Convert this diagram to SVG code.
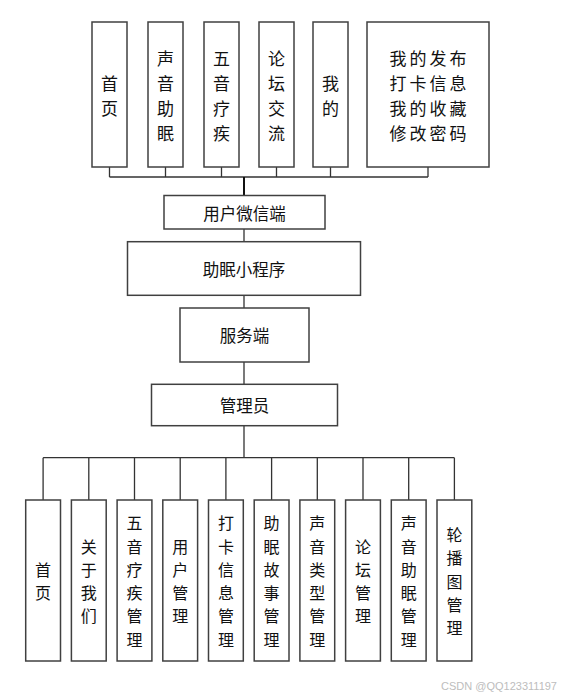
<svg xmlns="http://www.w3.org/2000/svg" width="561" height="698" viewBox="0 0 561 698">
<style>
.box{fill:#fff;stroke:#404040;stroke-width:1.5}
.ln{fill:none;stroke:#333;stroke-width:1.3}
.thk{fill:none;stroke:#111;stroke-width:2}
text{font-family:"Noto Sans CJK SC","Noto Sans",sans-serif;fill:#111;text-anchor:middle;dominant-baseline:central}
.big{font-size:17px}
.wide{font-size:17px;letter-spacing:3px}
.sm{font-size:16px}
.mid{font-size:16.5px}
.wm{font-family:"Liberation Sans",sans-serif;font-size:11px;fill:#bdbdbd;text-anchor:end}
</style>
<rect width="561" height="698" fill="#fff"/>
<g id="connectors">
<path class="ln" d="M109.5 167V177M165.5 167V177M221.5 167V177M276.5 167V177M330.5 167V177M428 167V177M109.5 177H428"/>
<path class="thk" d="M244 177V195.5"/>
<path class="ln" d="M244 229V241.7M244 295.3V308M244 362V384.3M244 425.7V457.7"/>
<path class="ln" d="M43.1 457.7H454.4M43.1 457.7V500M88.8 457.7V500M134.5 457.7V500M180.2 457.7V500M225.9 457.7V500M271.6 457.7V500M317.3 457.7V500M363 457.7V500M408.7 457.7V500M454.4 457.7V500"/>
</g>
<g id="t1"><rect class="box" x="92" y="22" width="35" height="145"/><text class="big"><tspan x="109.5" y="82">首</tspan><tspan x="109.5" y="107">页</tspan></text></g>
<g id="t2"><rect class="box" x="148" y="22" width="35" height="145"/><text class="big"><tspan x="165.5" y="57">声</tspan><tspan x="165.5" y="82">音</tspan><tspan x="165.5" y="107">助</tspan><tspan x="165.5" y="132">眠</tspan></text></g>
<g id="t3"><rect class="box" x="204" y="22" width="35" height="145"/><text class="big"><tspan x="221.5" y="57">五</tspan><tspan x="221.5" y="82">音</tspan><tspan x="221.5" y="107">疗</tspan><tspan x="221.5" y="132">疾</tspan></text></g>
<g id="t4"><rect class="box" x="259" y="22" width="35" height="145"/><text class="big"><tspan x="276.5" y="57">论</tspan><tspan x="276.5" y="82">坛</tspan><tspan x="276.5" y="107">交</tspan><tspan x="276.5" y="132">流</tspan></text></g>
<g id="t5"><rect class="box" x="313" y="22" width="35" height="145"/><text class="big"><tspan x="330.5" y="82">我</tspan><tspan x="330.5" y="107">的</tspan></text></g>
<g id="t6"><rect class="box" x="367" y="22" width="122" height="145"/><text class="wide"><tspan x="429.5" y="57">我的发布</tspan><tspan x="429.5" y="82">打卡信息</tspan><tspan x="429.5" y="107">我的收藏</tspan><tspan x="429.5" y="132">修改密码</tspan></text></g>
<g id="wechat"><rect class="box" x="164" y="195.5" width="161" height="33.5"/><text class="mid" x="244.5" y="212.5">用户微信端</text></g>
<g id="miniapp"><rect class="box" x="127.5" y="241.7" width="233" height="53.6"/><text class="mid" x="244" y="268.5">助眠小程序</text></g>
<g id="server"><rect class="box" x="180" y="308" width="129" height="54"/><text class="mid" x="244.5" y="335">服务端</text></g>
<g id="admin"><rect class="box" x="151.5" y="384.3" width="186" height="41.4"/><text class="mid" x="244.5" y="405">管理员</text></g>
<g id="b1"><rect class="box" x="25.7" y="500" width="34.8" height="161"/><text class="sm"><tspan x="43.1" y="568.8">首</tspan><tspan x="43.1" y="592.1">页</tspan></text></g>
<g id="b2"><rect class="box" x="71.4" y="500" width="34.8" height="161"/><text class="sm"><tspan x="88.8" y="545.5">关</tspan><tspan x="88.8" y="568.8">于</tspan><tspan x="88.8" y="592.1">我</tspan><tspan x="88.8" y="615.4">们</tspan></text></g>
<g id="b3"><rect class="box" x="117.1" y="500" width="34.8" height="161"/><text class="sm"><tspan x="134.5" y="522.2">五</tspan><tspan x="134.5" y="545.5">音</tspan><tspan x="134.5" y="568.8">疗</tspan><tspan x="134.5" y="592.1">疾</tspan><tspan x="134.5" y="615.4">管</tspan><tspan x="134.5" y="638.7">理</tspan></text></g>
<g id="b4"><rect class="box" x="162.8" y="500" width="34.8" height="161"/><text class="sm"><tspan x="180.2" y="545.5">用</tspan><tspan x="180.2" y="568.8">户</tspan><tspan x="180.2" y="592.1">管</tspan><tspan x="180.2" y="615.4">理</tspan></text></g>
<g id="b5"><rect class="box" x="208.5" y="500" width="34.8" height="161"/><text class="sm"><tspan x="225.9" y="522.2">打</tspan><tspan x="225.9" y="545.5">卡</tspan><tspan x="225.9" y="568.8">信</tspan><tspan x="225.9" y="592.1">息</tspan><tspan x="225.9" y="615.4">管</tspan><tspan x="225.9" y="638.7">理</tspan></text></g>
<g id="b6"><rect class="box" x="254.2" y="500" width="34.8" height="161"/><text class="sm"><tspan x="271.6" y="522.2">助</tspan><tspan x="271.6" y="545.5">眠</tspan><tspan x="271.6" y="568.8">故</tspan><tspan x="271.6" y="592.1">事</tspan><tspan x="271.6" y="615.4">管</tspan><tspan x="271.6" y="638.7">理</tspan></text></g>
<g id="b7"><rect class="box" x="299.9" y="500" width="34.8" height="161"/><text class="sm"><tspan x="317.3" y="522.2">声</tspan><tspan x="317.3" y="545.5">音</tspan><tspan x="317.3" y="568.8">类</tspan><tspan x="317.3" y="592.1">型</tspan><tspan x="317.3" y="615.4">管</tspan><tspan x="317.3" y="638.7">理</tspan></text></g>
<g id="b8"><rect class="box" x="345.6" y="500" width="34.8" height="161"/><text class="sm"><tspan x="363" y="545.5">论</tspan><tspan x="363" y="568.8">坛</tspan><tspan x="363" y="592.1">管</tspan><tspan x="363" y="615.4">理</tspan></text></g>
<g id="b9"><rect class="box" x="391.3" y="500" width="34.8" height="161"/><text class="sm"><tspan x="408.7" y="522.2">声</tspan><tspan x="408.7" y="545.5">音</tspan><tspan x="408.7" y="568.8">助</tspan><tspan x="408.7" y="592.1">眠</tspan><tspan x="408.7" y="615.4">管</tspan><tspan x="408.7" y="638.7">理</tspan></text></g>
<g id="b10"><rect class="box" x="437" y="500" width="34.8" height="161"/><text class="sm"><tspan x="454.4" y="533.9">轮</tspan><tspan x="454.4" y="557.2">播</tspan><tspan x="454.4" y="580.5">图</tspan><tspan x="454.4" y="603.8">管</tspan><tspan x="454.4" y="627.1">理</tspan></text></g>
<text class="wm" x="557" y="686">CSDN @QQ123311197</text>
</svg>
